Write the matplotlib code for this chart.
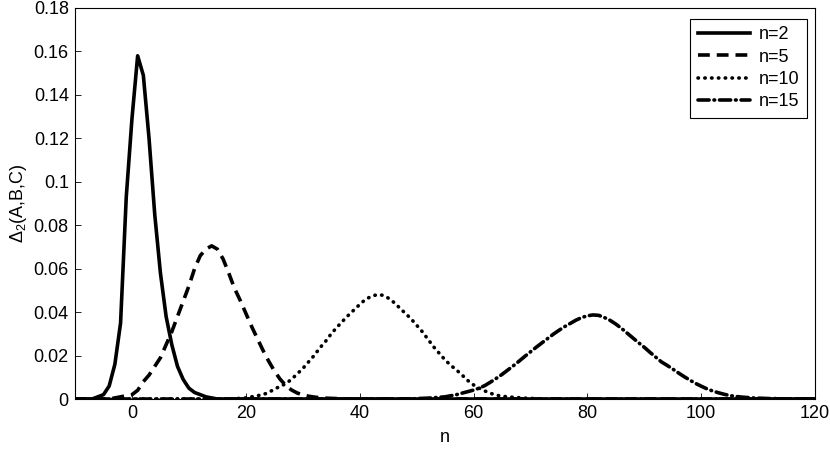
import numpy as np
import matplotlib
matplotlib.use('Agg')
import matplotlib.pyplot as plt
from matplotlib.ticker import FuncFormatter

plt.rcParams['font.family'] = ['Liberation Sans', 'DejaVu Sans']
plt.rcParams['mathtext.default'] = 'regular'
plt.rcParams['lines.scale_dashes'] = False

# n axis
n = np.arange(-10, 121)

# curve values (start index + values, zero elsewhere)
n2_start = -6
n2_vals = [0.001, 0.002, 0.006, 0.016, 0.035, 0.093, 0.129, 0.158, 0.149, 0.120,
           0.085, 0.058, 0.038, 0.025, 0.015, 0.009, 0.005, 0.003, 0.002, 0.001,
           0.0005]

n5_start = -3
n5_vals = [0.0005, 0.001, 0.0015, 0.002, 0.004, 0.008, 0.011, 0.015, 0.019, 0.025,
           0.031, 0.038, 0.045, 0.052, 0.060, 0.066, 0.069, 0.0705, 0.069, 0.0645,
           0.058, 0.051, 0.0455, 0.0395, 0.0335, 0.028, 0.0225, 0.0175, 0.013, 0.0092,
           0.0063, 0.0042, 0.0028, 0.0019, 0.0013, 0.0009, 0.0006, 0.0004, 0.0003, 0.0002]

n10_start = 18
n10_vals = [0.0002, 0.0003, 0.0005, 0.001, 0.0015, 0.002, 0.003, 0.0045, 0.0058, 0.007,
            0.009, 0.0115, 0.014, 0.017, 0.020, 0.0235, 0.0265, 0.030, 0.033, 0.0358,
            0.0385, 0.041, 0.0435, 0.0458, 0.0472, 0.048, 0.0478, 0.0465, 0.0445, 0.042,
            0.0395, 0.037, 0.034, 0.031, 0.0275, 0.024, 0.021, 0.018, 0.0155, 0.0134,
            0.011, 0.0085, 0.0065, 0.005, 0.0037, 0.0026, 0.0018, 0.0013, 0.001, 0.0008,
            0.0006, 0.0004, 0.0003, 0.0002]

n15_start = 50
n15_vals = [0.0002, 0.0003, 0.0004, 0.0006, 0.0008, 0.001, 0.0015, 0.002, 0.0027, 0.0034,
            0.0041, 0.005, 0.0062, 0.0078, 0.0095, 0.0113, 0.0133, 0.0153, 0.0174, 0.0196,
            0.0217, 0.0238, 0.0258, 0.0278, 0.0298, 0.0316, 0.0333, 0.0348, 0.0363, 0.0375,
            0.0383, 0.0387, 0.0385, 0.0375, 0.0362, 0.0345, 0.0325, 0.0303, 0.0281, 0.0259,
            0.0238, 0.0215, 0.0193, 0.0171, 0.0155, 0.0138, 0.012, 0.0103, 0.0087, 0.0072,
            0.0059, 0.0047, 0.0037, 0.0029, 0.0022, 0.0016, 0.0012, 0.0009, 0.0007, 0.0005,
            0.0004, 0.0003, 0.0002, 0.0002, 0.0001]

labels = ['n=2', 'n=5', 'n=10', 'n=15']


def full_series(start, vals):
    y = np.zeros(len(n))
    i0 = start - n[0]
    y[i0:i0 + len(vals)] = vals
    return y


series = [full_series(n2_start, n2_vals), full_series(n5_start, n5_vals),
          full_series(n10_start, n10_vals), full_series(n15_start, n15_vals)]
styles = [dict(linestyle='-'),
          dict(dashes=(8.5, 5)),
          dict(dashes=(0.3, 4.6), dash_capstyle='round'),
          dict(dashes=(8, 3.5, 0.5, 3.5), dash_capstyle='round')]

fig = plt.figure(figsize=(8.3, 4.57), dpi=100)
ax = fig.add_axes([0.0904, 0.1269, 0.8916, 0.8556])

for y, lab, st in zip(series, labels, styles):
    ax.plot(n, y, color='black', linewidth=2.6, label=lab, **st)

ax.set_xlim(-10, 120)
ax.set_ylim(0, 0.18)
ax.set_xticks(np.arange(0, 121, 20))
ax.set_yticks(np.arange(0, 0.181, 0.02))
ax.yaxis.set_major_formatter(FuncFormatter(lambda v, p: f'{round(v, 2):g}'))
ax.tick_params(direction='in', labelsize=13, length=4, width=0.6, pad=4.5)
for s in ax.spines.values():
    s.set_linewidth(0.8)

ax.set_xlabel('n', fontsize=13, labelpad=5)
ax.set_ylabel(r'$\Delta_2$(A,B,C)', fontsize=13, labelpad=3)

leg = ax.legend(loc='upper right', bbox_to_anchor=(0.989, 0.972), borderaxespad=0,
                fontsize=13, handlelength=2.9, handletextpad=0.5, labelspacing=0.3,
                borderpad=0.4, fancybox=False, framealpha=1, edgecolor='black')
leg.get_frame().set_linewidth(0.8)

fig.savefig('out.png', dpi=100)
